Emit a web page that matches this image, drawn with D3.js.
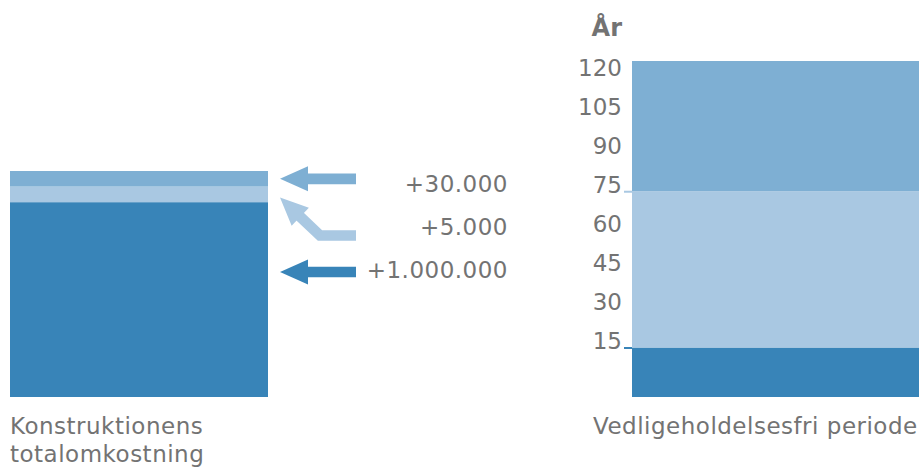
<!DOCTYPE html>
<html>
<head>
<meta charset="utf-8">
<script src="https://cdn.jsdelivr.net/npm/d3@7"></script>
<style>
  html, body { margin: 0; padding: 0; background: #ffffff; }
  svg { display: block; }
  text { font-family: "DejaVu Sans", Verdana, sans-serif; fill: #737373; }
</style>
</head>
<body>
<div id="chart"></div>
<script>
// ---------- data ----------
// Left bar: schematic (not to scale) stack of the construction's total cost, bottom -> top
const costParts   = ["Anlæg", "Tilvalg 1", "Tilvalg 2"];
const costUnits   = [12.5, 1, 1];                 // illustrative heights
const costLabels  = ["+1.000.000", "+5.000", "+30.000"];
const partColors  = ["#3884b8", "#a9c8e2", "#7eafd3"];

// Right bar: maintenance-free period (years)
const yearDomain  = [-4, 125];
const periodBreaks = [-4, 15, 75, 125];            // band edges, bottom -> top
const periodColors = ["#3884b8", "#a9c8e2", "#7eafd3"];
const markedYears = [15, 75];
const markedColors = ["#3884b8", "#a9c8e2"];
const yearTicks   = [15, 30, 45, 60, 75, 90, 105, 120];

const axisTitle   = "År";
const leftCaption = ["Konstruktionens", "totalomkostning"];
const rightCaption = "Vedligeholdelsesfri periode";

// ---------- layout ----------
const W = 919, H = 468;
const plotTop = 61, plotBottom = 397;
const leftX = [10, 268];
const rightX = [632, 925];
const FS = "23px", LS = "0.5px";

const svg = d3.select("#chart").append("svg")
  .attr("width", W).attr("height", H);

// ---------- left bar ----------
const costTotal = d3.sum(costUnits);
const yCost = d3.scaleLinear().domain([0, costTotal]).range([plotBottom, 171]);
const costStack = costUnits.map((v, i) => {
  const y0 = d3.sum(costUnits.slice(0, i));
  return { name: costParts[i], y0, y1: y0 + v, color: partColors[i] };
});
svg.append("g").selectAll("rect").data(costStack).join("rect")
  .attr("x", leftX[0])
  .attr("width", leftX[1] - leftX[0])
  .attr("y", d => yCost(d.y1))
  .attr("height", d => yCost(d.y0) - yCost(d.y1))
  .attr("fill", d => d.color);

// ---------- right bar ----------
const yYears = d3.scaleLinear().domain(yearDomain).range([plotBottom, plotTop]);
const bands = periodColors.map((c, i) => ({ from: periodBreaks[i], to: periodBreaks[i + 1], color: c }));
svg.append("g").selectAll("rect").data(bands).join("rect")
  .attr("x", rightX[0])
  .attr("width", rightX[1] - rightX[0])
  .attr("y", d => yYears(d.to))
  .attr("height", d => yYears(d.from) - yYears(d.to))
  .attr("fill", d => d.color);

// axis labels
const axis = d3.axisLeft(yYears).tickValues(yearTicks).tickSize(0).tickPadding(10).tickFormat(d3.format("d"));
const gAxis = svg.append("g").attr("transform", `translate(${rightX[0]},0)`).call(axis);
gAxis.select(".domain").remove();
gAxis.selectAll("text")
  .attr("dy", "0.05em")
  .style("font-family", '"DejaVu Sans", Verdana, sans-serif')
  .style("font-size", "23px")
  .attr("fill", "#707070");

// coloured tick marks at band edges
svg.append("g").selectAll("line").data(markedYears).join("line")
  .attr("x1", rightX[0] - 8).attr("x2", rightX[0])
  .attr("y1", d => yYears(d) + 0.5).attr("y2", d => yYears(d) + 0.5)
  .attr("stroke", (d, i) => markedColors[i])
  .attr("stroke-width", 2);

svg.append("text")
  .attr("x", rightX[0] - 10).attr("y", 36)
  .attr("text-anchor", "end")
  .style("font-size", "24px").style("font-weight", "bold")
  .attr("fill", "#6a6a6a")
  .text(axisTitle);

// ---------- annotations (arrows + labels) ----------
// label rows, top -> bottom
const rows = costLabels.map((t, i) => ({ text: t, color: partColors[i] })).reverse();
const yRow = d3.scalePoint().domain(rows.map(d => d.text)).range([191.5, 277.5]);
const labelX = 508;
svg.append("g").selectAll("text").data(rows).join("text")
  .attr("x", labelX)
  .attr("y", d => yRow(d.text))
  .attr("text-anchor", "end")
  .style("font-size", FS).style("letter-spacing", LS)
  .text(d => d.text);

const tipX = 280, shaftEnd = 356, headLen = 28, headHalf = 12.5, shaftW = 10.7;
const line = d3.line();
const gArr = svg.append("g");

function arrow(points, color) {
  // points: polyline from tail to tip
  const n = points.length;
  const tip = points[n - 1], prev = points[n - 2];
  const dx = tip[0] - prev[0], dy = tip[1] - prev[1];
  const len = Math.hypot(dx, dy), ux = dx / len, uy = dy / len;
  const base = [tip[0] - ux * headLen, tip[1] - uy * headLen];
  const shaft = points.slice(0, n - 1).concat([[base[0] + ux * 1, base[1] + uy * 1]]);
  gArr.append("path").attr("d", line(shaft))
    .attr("fill", "none").attr("stroke", color)
    .attr("stroke-width", shaftW).attr("stroke-linejoin", "miter");
  const px = -uy, py = ux;
  gArr.append("path")
    .attr("d", line([tip, [base[0] + px * headHalf, base[1] + py * headHalf], [base[0] - px * headHalf, base[1] - py * headHalf]]) + "Z")
    .attr("fill", color);
}

// top: +30.000 (medium) -> centre of top band
const topBand = costStack[2];
const yA = yCost((topBand.y0 + topBand.y1) / 2);
arrow([[shaftEnd, yA], [tipX, yA]], topBand.color);

// middle: +5.000 (light) bent arrow -> light band
const midBand = costStack[1];
const yB = yRow(rows[1].text) + 1;
const yBtip = yCost((midBand.y0 + midBand.y1) / 2) + 3;
const bendX = 320;
arrow([[shaftEnd, yB], [bendX, yB], [tipX, yBtip]], midBand.color);

// bottom: +1.000.000 (dark)
const botBand = costStack[0];
const yC = yRow(rows[2].text) - 5.5;
arrow([[shaftEnd, yC], [tipX, yC]], botBand.color);

// ---------- captions ----------
svg.append("text")
  .attr("x", leftX[0]).attr("y", 434)
  .style("font-size", FS).style("letter-spacing", LS)
  .selectAll("tspan").data(leftCaption).join("tspan")
  .attr("x", leftX[0]).attr("dy", (d, i) => i === 0 ? 0 : 28)
  .text(d => d);

svg.append("text")
  .attr("x", 593).attr("y", 434)
  .style("font-size", FS).style("letter-spacing", LS)
  .text(rightCaption);
</script>
</body>
</html>
